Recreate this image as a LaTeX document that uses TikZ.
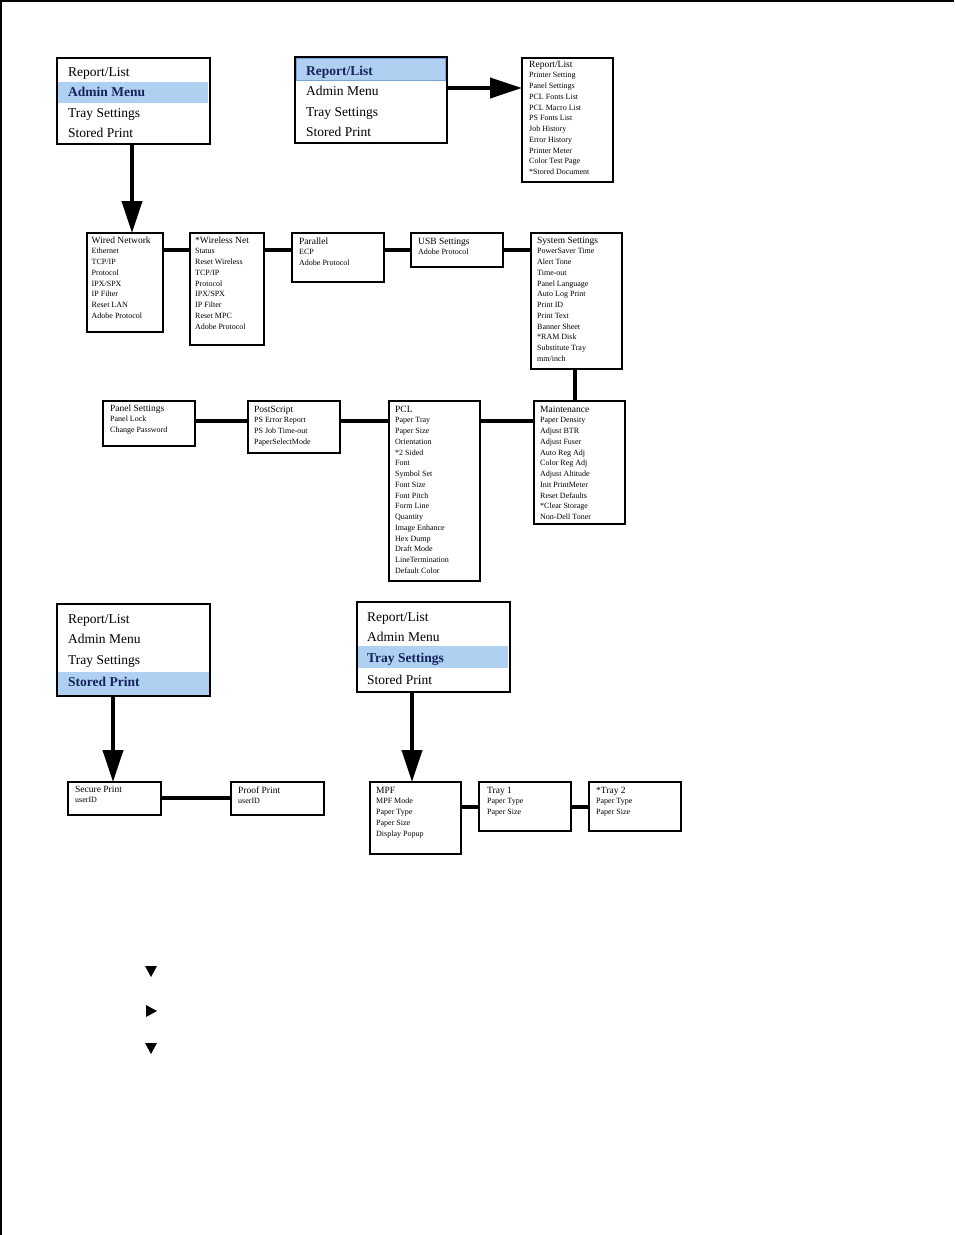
\documentclass[tikz,border=0pt]{standalone}
\usepackage{fontspec}
\setmainfont{Liberation Serif}
\usetikzlibrary{arrows.meta}
\definecolor{hl}{RGB}{176,208,242}
\definecolor{hlline}{RGB}{120,160,210}
\definecolor{hltext}{RGB}{20,35,90}
\newcommand\lbox[9]{%
  \node[boxst,anchor=north west,minimum width=#4pt,minimum height=#5pt] (#1) at (#2,#3) {};
  \node[ltxt] (#1-t) at ([xshift=#6pt,yshift=-#7pt]#1.north west)
    {\begin{tabular}[t]{@{}l@{}}{\fontsize{9.5}{10.75}\selectfont #8}\\#9\end{tabular}};
}
\begin{document}
\begin{tikzpicture}[x=1pt,y=-1pt,
  boxst/.style={draw=black,line width=1.5pt,inner sep=0pt,outer sep=0pt},
  conn/.style={line width=4pt},
  bigarrow/.style={line width=4pt,-{Triangle[length=32pt,width=20pt]}},
  menutxt/.style={inner sep=0pt,anchor=base west,font=\fontsize{13.5}{16}\selectfont},
  hltxt/.style={menutxt,text=hltext,font=\fontsize{13.5}{16}\selectfont\bfseries},
  ltxt/.style={inner sep=0pt,anchor=base west,font=\fontsize{8}{10.75}\selectfont},
]
\useasboundingbox (0,0) rectangle (954,1235);
\draw[line width=2pt] (1,1235) -- (1,1) -- (954,1);

% highlights
\fill[hl] (58,82) rectangle (208,103);
\filldraw[fill=hl,draw=hlline,line width=1pt] (296,58) rectangle (445,80);
\fill[hl] (58,672) rectangle (209,696);
\fill[hl] (358,646) rectangle (508,668);

% menu boxes
\node[boxst,anchor=north west,minimum width=153pt,minimum height=86pt] (m1) at (57,58) {};
\node[menutxt] (m1a) at (68,76) {Report/List};
\node[hltxt]   (m1b) at (68,96.5) {Admin Menu};
\node[menutxt] (m1c) at (68,117) {Tray Settings};
\node[menutxt] (m1d) at (68,137.5) {Stored Print};

\node[boxst,anchor=north west,minimum width=152pt,minimum height=86pt] (m2) at (295,57) {};
\node[hltxt]   (m2a) at (306,75) {Report/List};
\node[menutxt] (m2b) at (306,95.5) {Admin Menu};
\node[menutxt] (m2c) at (306,116) {Tray Settings};
\node[menutxt] (m2d) at (306,136.5) {Stored Print};

\node[boxst,anchor=north west,minimum width=153pt,minimum height=92pt] (m3) at (57,604) {};
\node[menutxt] (m3a) at (68,623) {Report/List};
\node[menutxt] (m3b) at (68,643.5) {Admin Menu};
\node[menutxt] (m3c) at (68,664) {Tray Settings};
\node[hltxt]   (m3d) at (68,686.5) {Stored Print};

\node[boxst,anchor=north west,minimum width=153pt,minimum height=90pt] (m4) at (357,602) {};
\node[menutxt] (m4a) at (367,621) {Report/List};
\node[menutxt] (m4b) at (367,641.5) {Admin Menu};
\node[hltxt]   (m4c) at (367,662) {Tray Settings};
\node[menutxt] (m4d) at (367,684.5) {Stored Print};

% list boxes
\lbox{rep}{522}{58}{91}{124}{7}{9}{Report/List}{Printer Setting\\Panel Settings\\PCL Fonts List\\PCL Macro List\\PS Fonts List\\Job History\\Error History\\Printer Meter\\Color Test Page\\{*}Stored Document}
\lbox{wired}{87}{233}{76}{99}{4.5}{10}{Wired Network}{Ethernet\\TCP/IP\\Protocol\\IPX/SPX\\IP Filter\\Reset LAN\\Adobe Protocol}
\lbox{wless}{190}{233}{74}{112}{5}{10}{*Wireless Net}{Status\\Reset Wireless\\TCP/IP\\Protocol\\IPX/SPX\\IP Filter\\Reset MPC\\Adobe Protocol}
\lbox{par}{292}{233}{92}{49}{7}{11}{Parallel}{ECP\\Adobe Protocol}
\lbox{usb}{411}{233}{92}{34}{7}{11}{USB Settings}{Adobe Protocol}
\lbox{sys}{531}{233}{91}{136}{6}{10}{System Settings}{PowerSaver Time\\Alert Tone\\Time-out\\Panel Language\\Auto Log Print\\Print ID\\Print Text\\Banner Sheet\\{*}RAM Disk\\Substitute Tray\\mm/inch}
\lbox{pan}{103}{401}{92}{45}{7}{10}{Panel Settings}{Panel Lock\\Change Password}
\lbox{ps}{248}{401}{92}{52}{6}{11}{PostScript}{PS Error Report\\PS Job Time-out\\PaperSelectMode}
\lbox{pcl}{389}{401}{91}{180}{6}{11}{PCL}{Paper Tray\\Paper Size\\Orientation\\{*}2 Sided\\Font\\Symbol Set\\Font Size\\Font Pitch\\Form Line\\Quantity\\Image Enhance\\Hex Dump\\Draft Mode\\LineTermination\\Default Color}
\lbox{mnt}{534}{401}{91}{123}{6}{11}{Maintenance}{Paper Density\\Adjust BTR\\Adjust Fuser\\Auto Reg Adj\\Color Reg Adj\\Adjust Altitude\\Init PrintMeter\\Reset Defaults\\{*}Clear Storage\\Non-Dell Toner}
\lbox{sec}{68}{782}{93}{33}{7}{10}{Secure Print}{userID}
\lbox{prf}{231}{782}{93}{33}{7}{11}{Proof Print}{userID}
\lbox{mpf}{370}{782}{91}{72}{6}{11}{MPF}{MPF Mode\\Paper Type\\Paper Size\\Display Popup}
\lbox{tr1}{479}{782}{92}{49}{8}{11}{Tray 1}{Paper Type\\Paper Size}
\lbox{tr2}{589}{782}{92}{49}{7}{11}{*Tray 2}{Paper Type\\Paper Size}

% connectors
\draw[conn] ([yshift=-17pt]wired.north east) -- ([yshift=-17pt]wless.north west);
\draw[conn] ([yshift=-17pt]wless.north east) -- ([yshift=-17pt]par.north west);
\draw[conn] ([yshift=-17pt]par.north east) -- ([yshift=-17pt]usb.north west);
\draw[conn] ([yshift=-17pt]usb.north east) -- ([yshift=-17pt]sys.north west);
\draw[conn] ([xshift=-1.5pt]sys.south) -- ([xshift=-1.5pt]sys.south |- mnt.north);
\draw[conn] ([yshift=-20pt]pan.north east) -- ([yshift=-20pt]ps.north west);
\draw[conn] ([yshift=-20pt]ps.north east) -- ([yshift=-20pt]pcl.north west);
\draw[conn] ([yshift=-20pt]pcl.north east) -- ([yshift=-20pt]mnt.north west);
\draw[conn] ([yshift=-16pt]sec.north east) -- ([yshift=-16pt]prf.north west);
\draw[conn] ([yshift=-25pt]mpf.north east) -- ([yshift=-25pt]tr1.north west);
\draw[conn] ([yshift=-25pt]tr1.north east) -- ([yshift=-25pt]tr2.north west);

% arrows
\draw[bigarrow] ([xshift=-1.5pt]m1.south) -- ([xshift=-1.5pt]m1.south |- wired.north);
\draw[bigarrow] ([yshift=-31pt]m2.north east) -- ([yshift=-31pt]m2.north east -| rep.west);
\draw[bigarrow] ([xshift=56pt]m3.south west) -- ([xshift=56pt]m3.south west |- sec.north);
\draw[bigarrow] ([xshift=55pt]m4.south west) -- ([xshift=55pt]m4.south west |- mpf.north);

% legend triangles
\fill (145,966) -- (157,966) -- (151,977) -- cycle;
\fill (146,1005) -- (146,1017) -- (157,1011) -- cycle;
\fill (145,1043) -- (157,1043) -- (151,1054) -- cycle;
\end{tikzpicture}
\end{document}
